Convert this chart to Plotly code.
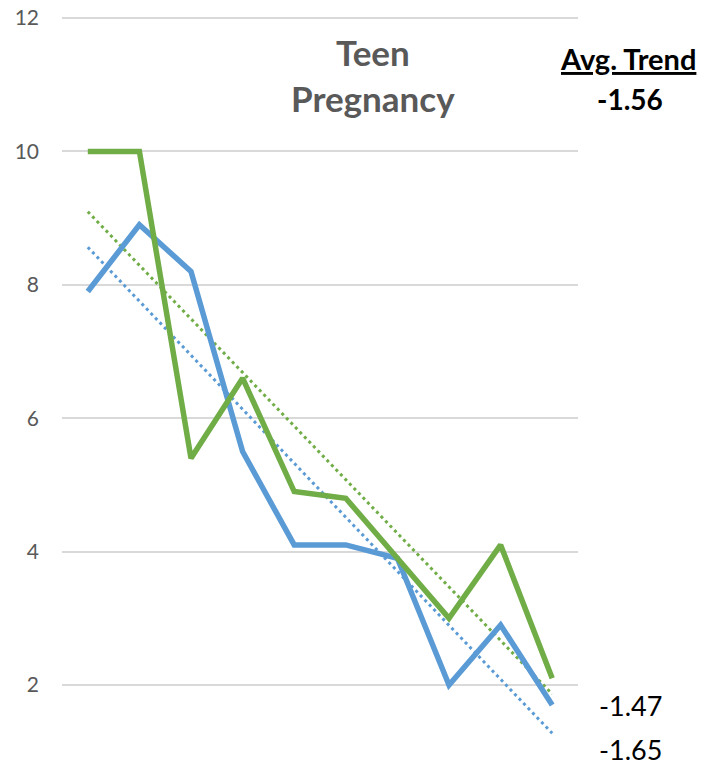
import numpy as np
import plotly.graph_objects as go

periods = list(range(1, 11))
green_vals = [10, 10, 5.4, 6.6, 4.9, 4.8, 3.9, 3.0, 4.1, 2.1]
blue_vals = [7.9, 8.9, 8.2, 5.5, 4.1, 4.1, 3.9, 2.0, 2.9, 1.7]
y_ticks = [2, 4, 6, 8, 10, 12]
title_text = "Teen<br>Pregnancy"
avg_label = "Avg. Trend"
avg_value = "-1.56"
green_trend_label = "-1.47"
blue_trend_label = "-1.65"

GREEN = "#70AD47"
BLUE = "#5B9BD5"

OFF = 8  # default page body margin
W, H = 705 - OFF, 765 - OFF
L, R, T, B = 62 - OFF, 705 - 578, 16 - OFF, 0
pw, ph = W - L - R, H - T - B

def px(x):
    return (x - OFF - L) / pw

def py(y):
    return (H - B - (y - OFF)) / ph

xs = np.arange(len(periods))

def trend(vals):
    m, c = np.polyfit(xs, vals, 1)
    return m * xs + c

fig = go.Figure()
fig.add_trace(go.Scatter(x=xs, y=trend(blue_vals), mode="lines",
                         line=dict(color=BLUE, width=3, dash="3px,3.5px"), hoverinfo="skip"))
fig.add_trace(go.Scatter(x=xs, y=trend(green_vals), mode="lines",
                         line=dict(color=GREEN, width=3, dash="3px,3.5px"), hoverinfo="skip"))
fig.add_trace(go.Scatter(x=xs, y=blue_vals, mode="lines",
                         line=dict(color=BLUE, width=5.5)))
fig.add_trace(go.Scatter(x=xs, y=green_vals, mode="lines",
                         line=dict(color=GREEN, width=5.5)))

FONT = "Lato"
ytop = 12.03
fig.update_layout(
    width=W, height=H,
    margin=dict(l=L, r=R, t=T, b=B, autoexpand=False),
    paper_bgcolor="white", plot_bgcolor="white",
    showlegend=False,
    xaxis=dict(range=[-0.5, len(periods) - 0.5], showgrid=False, zeroline=False,
               showticklabels=False, showline=False, fixedrange=True),
    yaxis=dict(range=[ytop - ph / 66.7, ytop], tickvals=y_ticks, showgrid=True,
               gridcolor="#D9D9D9", gridwidth=1.5, zeroline=False, showline=False,
               ticklabelstandoff=22, automargin=False, ticklabeloverflow="allow",
               tickfont=dict(family=FONT, size=21, color="#595959")),
    annotations=[
        dict(text="<b>" + title_text + "</b>", x=px(373), y=py(75), xref="paper", yref="paper",
             xanchor="center", yanchor="middle",
             showarrow=False, align="center",
             font=dict(family=FONT, size=35, color="#595959")),
        dict(text="<b><u>" + avg_label + "</u></b>", x=px(628), y=py(58), xref="paper", yref="paper",
             xanchor="center", yanchor="middle",
             showarrow=False, font=dict(family=FONT, size=29, color="black")),
        dict(text="<b>" + avg_value + "</b>", x=px(630), y=py(99), xref="paper", yref="paper",
             xanchor="center", yanchor="middle",
             showarrow=False, font=dict(family=FONT, size=28, color="black")),
        dict(text=green_trend_label, x=px(630), y=py(705), xref="paper", yref="paper",
             xanchor="center", yanchor="middle", borderpad=0,
             showarrow=False, font=dict(family=FONT, size=27, color="black")),
        dict(text=blue_trend_label, x=px(630), y=py(749), xref="paper", yref="paper",
             xanchor="center", yanchor="middle", borderpad=0,
             showarrow=False, font=dict(family=FONT, size=27, color="black")),
    ],
)

fig.write_html("out.html")
